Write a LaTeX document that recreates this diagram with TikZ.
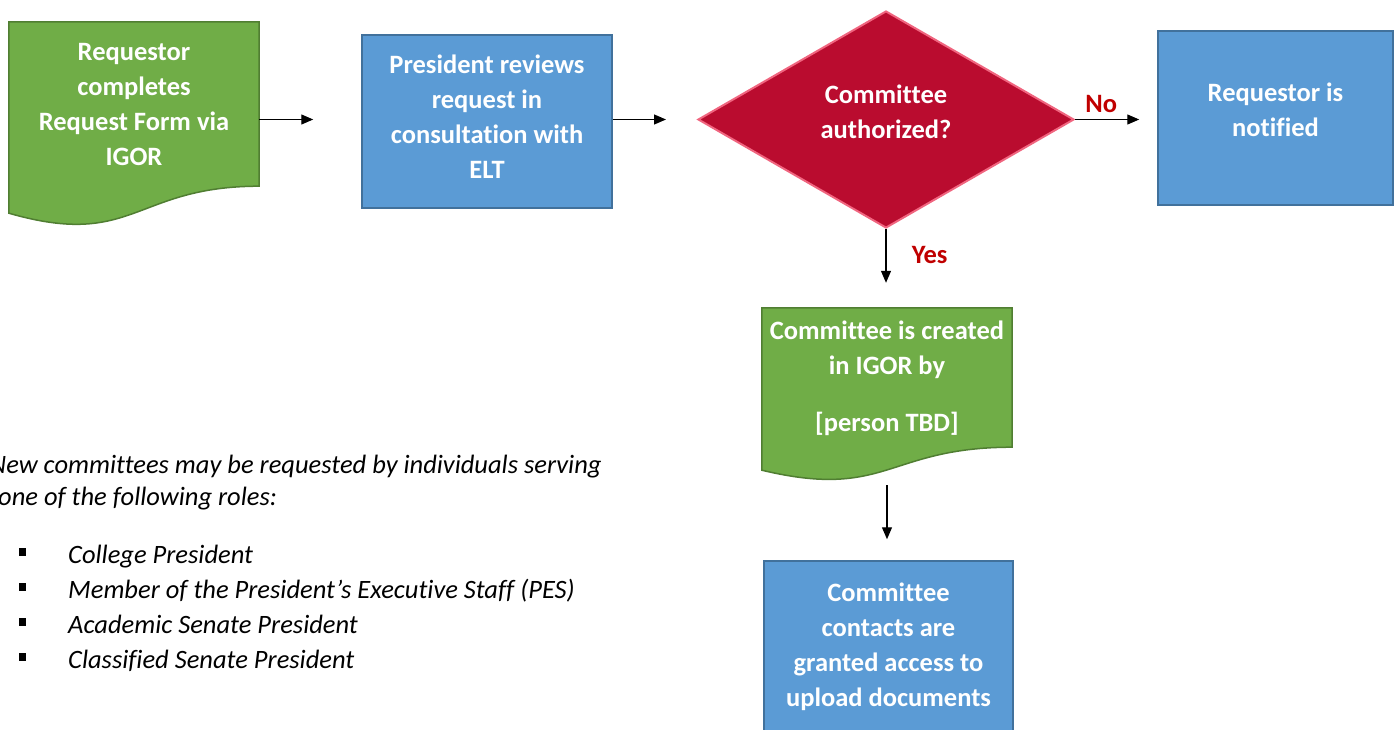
\documentclass[tikz,border=0pt]{standalone}
\usepackage{fontspec}
\setmainfont{Carlito}[Ligatures=NoCommon]
\usetikzlibrary{arrows.meta, positioning, shapes.geometric, backgrounds}

\definecolor{docgreen}{HTML}{70AD47}
\definecolor{docgreenline}{HTML}{507E32}
\definecolor{procblue}{HTML}{5B9BD5}
\definecolor{procblueline}{HTML}{41719C}
\definecolor{decred}{HTML}{BA0C2F}
\definecolor{decredline}{HTML}{F0657F}
\definecolor{labred}{HTML}{C00000}

\tikzset{
  boxtext/.style={text=white, font=\bfseries\fontsize{26.5}{35}\selectfont, align=center, inner sep=0pt},
  proc/.style={boxtext, rectangle, fill=procblue, draw=procblueline, line width=1.5pt},
  doc/.style={boxtext, rectangle, minimum width=250pt},
  docfill/.style={fill=docgreen, draw=docgreenline, line width=1.5pt},
  decision/.style={boxtext, diamond, fill=decred, draw=decredline, line width=2pt},
  flow/.style={-{Triangle[length=12pt,width=10pt]}, line width=1.2pt},
  lab/.style={text=labred, font=\bfseries\fontsize{26.5}{30}\selectfont},
  note/.style={font=\itshape\fontsize{26.5}{30}\selectfont, inner sep=0pt},
  bulletsq/.style={fill=black, minimum width=7pt, minimum height=8pt, inner sep=0pt}
}

\begin{document}
\begin{tikzpicture}[x=1pt,y=-1pt]
\useasboundingbox (0,0) rectangle (1398,730);

% Top row
\node[doc, minimum height=164pt] (req) at (134,104)
  {Requestor\\completes\\Request Form via\\IGOR};
\node[proc, minimum width=250pt, minimum height=173pt, text depth=9pt] (rev) at (487,121.5)
  {President reviews\\request in\\consultation with\\ELT};
\node[decision, minimum width=376pt, minimum height=217pt, text depth=16pt] (auth) at (886,119.5)
  {Committee\\authorized?};
\node[proc, minimum width=235pt, minimum height=174pt, text depth=17pt] (notif) at (1275.5,118)
  {Requestor is\\notified};

% Lower column
\node[doc, minimum height=139pt, text depth=2pt] (create) at (887,377.5)
  {Committee is created\\in IGOR by\\[22pt][person TBD]};
\node[proc, minimum width=249pt, minimum height=174pt, text depth=6pt] (access) at (888.5,648)
  {Committee\\contacts are\\granted access to\\upload documents};

% Document outlines with wavy bottom
\begin{scope}[on background layer]
\draw[docfill] (req.north west) -- (req.north east) -- (req.south east)
  .. controls (req.south) and ([yshift=-63pt]req.south) .. ([yshift=-27pt]req.south west) -- cycle;
\draw[docfill] (create.north west) -- (create.north east) -- (create.south east)
  .. controls (create.south) and ([yshift=-53pt]create.south) .. ([yshift=-23pt]create.south west) -- cycle;
\end{scope}

% Connectors
\draw[flow, shorten >=48pt] (req.east |- auth) -- (rev.west |- auth);
\draw[flow, shorten >=31pt] (rev.east |- auth) -- (auth.west);
\draw[flow, shorten >=18pt] (auth.east) -- node[lab, above=3pt, pos=.32] {No} (notif.west |- auth);
\draw[flow, shorten >=25pt] (auth.south) -- node[lab, right=22pt, pos=.33] {Yes} (auth.south |- create.north);
\draw[flow, shorten <=38pt, shorten >=21pt] (create.south) -- (create.south |- access.north);

% Note on who may request
\node[note, anchor=base west] (note1) at (-11,473) {New committees may be requested by individuals serving};
\node[note, anchor=base west] (note2) at (-2,505) {one of the following roles:};
\node[note, anchor=base west] (role1) at (68,563) {College President};
\node[note, anchor=base west] (role2) at (68,598) {Member of the President’s Executive Staff (PES)};
\node[note, anchor=base west] (role3) at (68,633) {Academic Senate President};
\node[note, anchor=base west] (role4) at (68,668) {Classified Senate President};
\node[bulletsq] at (22,552) {};
\node[bulletsq] at (22,587) {};
\node[bulletsq] at (22,622) {};
\node[bulletsq] at (22,657) {};
\end{tikzpicture}
\end{document}
